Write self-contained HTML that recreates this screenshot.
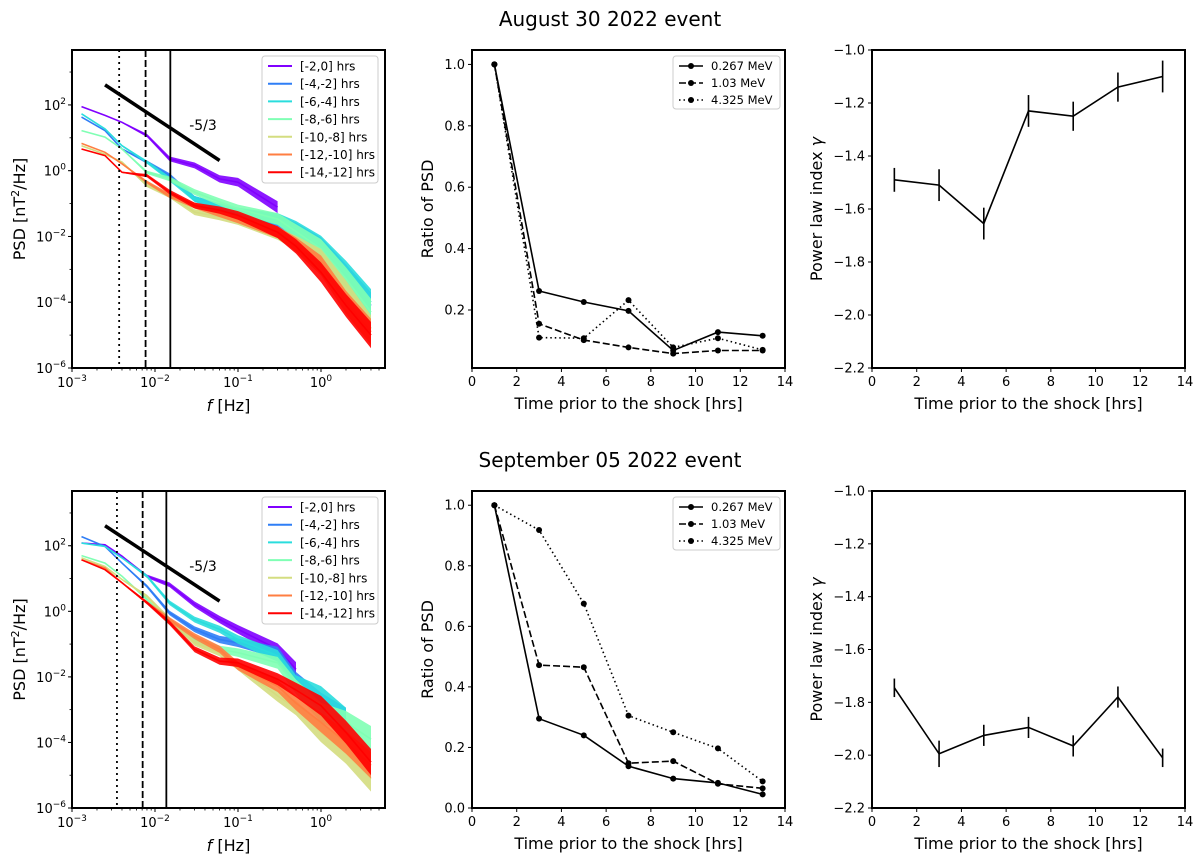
<!DOCTYPE html>
<html><head><meta charset="utf-8">
<style>
html,body{margin:0;padding:0;background:#fff;}
svg{display:block;font-family:"DejaVu Sans","Liberation Sans",sans-serif;}
</style></head>
<body>
<svg id="fig" width="1200" height="861" viewBox="0 0 1200 861" xmlns="http://www.w3.org/2000/svg">
<text x="610" y="26" font-size="20" text-anchor="middle">August 30 2022 event</text>
<text x="610" y="467" font-size="20" text-anchor="middle">September 05 2022 event</text>
</svg>
<script>
// ---------- data ----------
const psdFreqs = [0.0013, 0.0025, 0.004, 0.008, 0.015, 0.03, 0.06, 0.1, 0.3, 0.5, 1, 2, 4];
const psdNoise = [0, 0, 0.02, 0.05, 0.07, 0.09, 0.11, 0.13, 0.18, 0.22, 0.3, 0.35, 0.4];
const psdLabels = ["[-2,0] hrs","[-4,-2] hrs","[-6,-4] hrs","[-8,-6] hrs","[-10,-8] hrs","[-12,-10] hrs","[-14,-12] hrs"];
const psdColors = ["#8000ff","#2f7ef6","#2adddd","#80ffb4","#d4dd80","#ff7e41","#ff0000"];
// log10 PSD values, August
const augPurple = [1.95,1.68,1.47,1.07,0.36,0.16,-0.25,-0.35,-1.11,null,null,null,null];
const augBlue   = [1.63,1.22,0.66,0.26,-0.15,-0.86,-1.1,-1.26,-1.52,-1.8,-2.33,-3.19,-4.1];
const augCyan   = [1.73,1.27,0.76,0.26,-0.25,-0.86,-1.1,-1.26,-1.47,-1.75,-2.28,-3.09,-4.0];
const augGreen  = [1.22,1.02,0.66,-0.05,-0.25,-0.65,-0.95,-1.16,-1.47,-1.85,-2.38,-3.29,-4.3];
const augYellow = [0.76,0.5,0.26,-0.45,-0.76,-1.26,-1.4,-1.52,-1.92,-2.2,-2.68,-3.69,-4.8];
const augOrange = [0.83,0.56,0.21,-0.35,-0.76,-1.06,-1.3,-1.47,-1.87,-2.25,-2.88,-4.0,-4.9];
const augRed    = [0.66,0.46,-0.05,-0.15,-0.65,-1.06,-1.2,-1.36,-1.87,-2.3,-3.09,-4.1,-5.0];
// log10 PSD values, September
const sepPurple = [2.08,2.03,1.68,1.07,0.81,0.21,-0.25,-0.55,-1.16,-1.77,null,null,null];
const sepBlue   = [2.28,1.98,1.47,0.76,-0.05,-0.55,-0.86,-0.96,-1.26,-2.07,-2.78,-3.29,null];
const sepCyan   = [2.08,1.98,1.63,1.07,0.26,-0.25,-0.55,-0.86,-1.36,-2.17,-2.58,-3.29,null];
const sepGreen  = [1.70,1.47,1.07,0.36,-0.35,-0.86,-1.16,-1.26,-1.57,-2.3,-3.09,-3.39,-3.9];
const sepYellow = [1.63,1.37,0.97,0.46,-0.25,-0.96,-1.26,-1.67,-2.58,-2.95,-3.69,-4.3,-5.1];
const sepOrange = [1.57,1.32,0.87,0.26,-0.25,-0.76,-1.16,-1.67,-2.28,-2.8,-3.39,-4.0,-4.7];
const sepRed    = [1.57,1.27,0.87,0.26,-0.35,-1.16,-1.52,-1.57,-2.07,-2.4,-2.88,-3.69,-4.6];
const augVLines = [0.0037, 0.0077, 0.0153];
const sepVLines = [0.00348, 0.0071, 0.0137];
const refLineF = [0.0025, 0.06];
const refLineLog = [2.61, 0.31];

const timeHrs = [1,3,5,7,9,11,13];
const energyLabels = ["0.267 MeV","1.03 MeV","4.325 MeV"];
const augR267 = [1,0.262,0.226,0.197,0.068,0.128,0.116];
const augR103 = [1,0.155,0.102,0.078,0.058,0.068,0.068];
const augR4325 = [1,0.11,0.108,0.232,0.078,0.108,0.07];
const sepR267 = [1,0.295,0.24,0.138,0.097,0.083,0.045];
const sepR103 = [1,0.472,0.465,0.148,0.155,0.08,0.065];
const sepR4325 = [1,0.918,0.675,0.305,0.25,0.197,0.088];

const augGamma = [-1.49,-1.51,-1.655,-1.23,-1.25,-1.14,-1.10];
const augGammaErr = [0.045,0.06,0.06,0.06,0.055,0.055,0.06];
const sepGamma = [-1.745,-1.995,-1.925,-1.895,-1.965,-1.78,-2.01];
const sepGammaErr = [0.035,0.05,0.04,0.04,0.04,0.04,0.035];

const linTicksX = [0,2,4,6,8,10,12,14];
const ratioTicksTop = [0.2,0.4,0.6,0.8,1.0];
const ratioTicksBot = [0.0,0.2,0.4,0.6,0.8,1.0];
const gammaTicks = [-1.0,-1.2,-1.4,-1.6,-1.8,-2.0,-2.2];

// ---------- drawing ----------
const NS = "http://www.w3.org/2000/svg";
const svg = document.getElementById("fig");
const TF = 13;
function mk(tag, attrs, parent){
  const e = document.createElementNS(NS, tag);
  for (const k in attrs) e.setAttribute(k, attrs[k]);
  (parent||svg).appendChild(e);
  return e;
}
function txt(x,y,s,size,anchor,parent){
  const t = mk("text",{x:x,y:y,"font-size":size,"text-anchor":anchor||"middle"},parent);
  t.textContent = s;
  return t;
}
function frame(x0,y0,x1,y1,name){
  const r = mk("rect",{x:x0,y:y0,width:x1-x0,height:y1-y0,fill:"none",stroke:"#000","stroke-width":2});
  
  
}

function psdPanel(y0,y1,series,vlines,prefix){
  const X0=72,X1=385;
  const g = mk("g",{});
  
  
  const xs = f => X0 + (Math.log10(f)+3)*83;
  const ys = l => y1 - (l+6)*(y1-y0)/9.67;
  const clip = mk("clipPath",{id:prefix+"clip"},g);
  mk("rect",{x:X0,y:y0,width:X1-X0,height:y1-y0},clip);
  const pg = mk("g",{"clip-path":"url(#"+prefix+"clip)"},g);
  for (let s=0; s<series.length; s++){
    const vals = series[s];
    let up=[],lo=[],pts=[];
    for (let i=0;i<psdFreqs.length;i++){
      if (vals[i]===null) continue;
      const x = xs(psdFreqs[i]);
      pts.push(x.toFixed(1)+","+ys(vals[i]).toFixed(1));
      up.push(x.toFixed(1)+","+ys(vals[i]+psdNoise[i]).toFixed(1));
      lo.unshift(x.toFixed(1)+","+ys(vals[i]-psdNoise[i]).toFixed(1));
    }
    const band = mk("polygon",{points:up.concat(lo).join(" "),fill:psdColors[s],"fill-opacity":0.9,stroke:"none"},pg);
    
    
    const ln = mk("polyline",{points:pts.join(" "),fill:"none",stroke:psdColors[s],"stroke-width":1.6},pg);
    
    
  }
  const dashes = ["2,4","7,3","none"];
  vlines.forEach((f,i)=>{
    const l = mk("line",{x1:xs(f),x2:xs(f),y1:y0,y2:y1,stroke:"#000","stroke-width":1.8,"stroke-dasharray":dashes[i]},g);
    
    
  });
  const rl = mk("line",{x1:xs(refLineF[0]),y1:ys(refLineLog[0]),x2:xs(refLineF[1]),y2:ys(refLineLog[1]),stroke:"#000","stroke-width":3.5},g);
  
  
  const rt = txt(203,y0+80,"-5/3",14,"middle",g);
  
  
  frame(X0,y0,X1,y1,prefix+'-psd-frame');
  for (let d=-3; d<=0; d++){
    const x = xs(Math.pow(10,d));
    mk("line",{x1:x,x2:x,y1:y1,y2:y1+4,stroke:"#000"},g);
    const t = mk("text",{x:x,y:y1+19,"font-size":TF,"text-anchor":"middle"},g);
    t.innerHTML = '10<tspan dy="-6" font-size="9">'+(d<0?'\u2212'+(-d):d)+'</tspan>';
    for (let m=2;m<=9;m++){
      const xm = xs(m*Math.pow(10,d));
      if (xm<X1) mk("line",{x1:xm,x2:xm,y1:y1,y2:y1+2.5,stroke:"#000","stroke-width":0.8},g);
    }
  }
  for (let d=-6; d<=2; d+=2){
    const y = ys(d);
    mk("line",{x1:X0-4,x2:X0,y1:y,y2:y,stroke:"#000"},g);
    const t = mk("text",{x:X0-6,y:y+5,"font-size":TF,"text-anchor":"end"},g);
    t.innerHTML = '10<tspan dy="-6" font-size="9">'+(d<0?'\u2212'+(-d):d)+'</tspan>';
  }
  for (let d=-5; d<=3; d+=1){ const y=ys(d); mk("line",{x1:X0-2.5,x2:X0,y1:y,y2:y,stroke:"#000","stroke-width":0.8},g); }
  const xl = mk("text",{x:(X0+X1)/2,y:y1+43,"font-size":16,"text-anchor":"middle"},g);
  xl.innerHTML = '<tspan font-style="italic">f</tspan> [Hz]';
  
  
  const yl = mk("text",{x:0,y:0,"font-size":16,"text-anchor":"middle",transform:"translate(25,"+((y0+y1)/2)+") rotate(-90)"},g);
  yl.innerHTML = 'PSD [nT<tspan dy="-6" font-size="11">2</tspan><tspan dy="6">/Hz]</tspan>';
  
  
  const lg = mk("g",{},g);
  
  
  mk("rect",{x:262,y:y0+6,width:116,height:127,rx:3,fill:"#fff","fill-opacity":0.8,stroke:"#ccc"},lg);
  psdLabels.forEach((lab,i)=>{
    const yy = y0+16+i*17.7;
    mk("line",{x1:268,x2:292,y1:yy,y2:yy,stroke:psdColors[i],"stroke-width":2},lg);
    const t = txt(300,yy+4.5,lab,12,"start",lg);
    
    
  });
}

function ratioPanel(y0,y1,ymin,ymax,series,ticks,prefix){
  const X0=472,X1=785;
  const g = mk("g",{});
  
  
  const xs = v => X0 + v/14*(X1-X0);
  const ys = v => y1 - (v-ymin)/(ymax-ymin)*(y1-y0);
  const dashes = ["none","7,3","1.5,3"];
  series.forEach((vals,s)=>{
    const pts = timeHrs.map((t,i)=>xs(t).toFixed(1)+","+ys(vals[i]).toFixed(1)).join(" ");
    const l = mk("polyline",{points:pts,fill:"none",stroke:"#000","stroke-width":1.6,"stroke-dasharray":dashes[s]},g);
    
    
    timeHrs.forEach((t,i)=>{
      const c = mk("circle",{cx:xs(t),cy:ys(vals[i]),r:3,fill:"#000"},g);
      
      
    });
  });
  frame(X0,y0,X1,y1,prefix+'-ratio-frame');
  linTicksX.forEach(v=>{ const x=xs(v); mk("line",{x1:x,x2:x,y1:y1,y2:y1+4,stroke:"#000"},g); txt(x,y1+18,String(v),TF,"middle",g); });
  ticks.forEach(v=>{ const y=ys(v); mk("line",{x1:X0-4,x2:X0,y1:y,y2:y,stroke:"#000"},g); txt(X0-7,y+4.5,v.toFixed(1),TF,"end",g); });
  const xl = txt((X0+X1)/2,y1+41,"Time prior to the shock [hrs]",16,"middle",g);
  
  
  const yl = mk("text",{x:0,y:0,"font-size":16,"text-anchor":"middle",transform:"translate(433,"+((y0+y1)/2)+") rotate(-90)"},g);
  yl.textContent = "Ratio of PSD";
  
  
  const lg = mk("g",{},g);
  
  
  mk("rect",{x:673,y:y0+6,width:107,height:53,rx:3,fill:"#fff",stroke:"#ccc"},lg);
  energyLabels.forEach((lab,i)=>{
    const yy = y0+16+i*17;
    mk("line",{x1:679,x2:703,y1:yy,y2:yy,stroke:"#000","stroke-width":1.6,"stroke-dasharray":dashes[i]},lg);
    mk("circle",{cx:691,cy:yy,r:3,fill:"#000"},lg);
    const t = txt(711,yy+4,lab,11.5,"start",lg);
    
    
  });
}

function gammaPanel(y0,y1,vals,errs,prefix){
  const X0=872,X1=1185;
  const g = mk("g",{});
  
  
  const xs = v => X0 + v/14*(X1-X0);
  const ys = v => y1 - (v+2.2)/1.2*(y1-y0);
  const pts = timeHrs.map((t,i)=>xs(t).toFixed(1)+","+ys(vals[i]).toFixed(1)).join(" ");
  const l = mk("polyline",{points:pts,fill:"none",stroke:"#000","stroke-width":1.6},g);
  
  
  timeHrs.forEach((t,i)=>{
    const e = mk("line",{x1:xs(t),x2:xs(t),y1:ys(vals[i]-errs[i]),y2:ys(vals[i]+errs[i]),stroke:"#000","stroke-width":1.6},g);
    
    
  });
  frame(X0,y0,X1,y1,prefix+'-gamma-frame');
  linTicksX.forEach(v=>{ const x=xs(v); mk("line",{x1:x,x2:x,y1:y1,y2:y1+4,stroke:"#000"},g); txt(x,y1+18,String(v),TF,"middle",g); });
  gammaTicks.forEach(v=>{ const y=ys(v); mk("line",{x1:X0-4,x2:X0,y1:y,y2:y,stroke:"#000"},g); txt(X0-7,y+4.5,'\u2212'+Math.abs(v).toFixed(1),TF,"end",g); });
  const xl = txt((X0+X1)/2,y1+41,"Time prior to the shock [hrs]",16,"middle",g);
  
  
  const yl = mk("text",{x:0,y:0,"font-size":16,"text-anchor":"middle",transform:"translate(822,"+((y0+y1)/2)+") rotate(-90)"},g);
  yl.innerHTML = 'Power law index <tspan font-style="italic">γ</tspan>';
  
  
}

psdPanel(50,368,[augPurple,augBlue,augCyan,augGreen,augYellow,augOrange,augRed],augVLines,"aug");
psdPanel(491,808,[sepPurple,sepBlue,sepCyan,sepGreen,sepYellow,sepOrange,sepRed],sepVLines,"sep");
ratioPanel(50,368,0.011,1.047,[augR267,augR103,augR4325],ratioTicksTop,"aug");
ratioPanel(491,808,0,1.047,[sepR267,sepR103,sepR4325],ratioTicksBot,"sep");
gammaPanel(50,368,augGamma,augGammaErr,"aug");
gammaPanel(491,808,sepGamma,sepGammaErr,"sep");
</script>
</body></html>
